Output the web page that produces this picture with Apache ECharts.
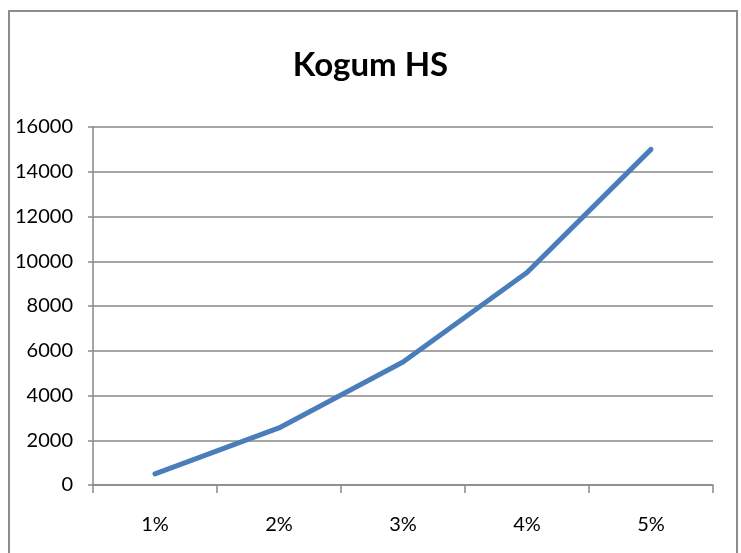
<!DOCTYPE html>
<html>
<head>
<meta charset="utf-8">
<title>Kogum HS</title>
<script src="https://cdn.jsdelivr.net/npm/echarts@6/dist/echarts.min.js"></script>
<style>
  html, body { margin:0; padding:0; background:#fff; }
  #chart { width:741px; height:553px; }
</style>
</head>
<body>
<div id="chart"></div>
<script>
// data
const titleText = 'Kogum HS';
const categories = ['1%', '2%', '3%', '4%', '5%'];
const values = [500, 2550, 5500, 9500, 15000];
const yMin = 0;
const yMax = 16000;
const yStep = 2000;

const FONT = 'Lato, "Open Sans", sans-serif';
const gridColor = '#898989';

const chart = echarts.init(document.getElementById('chart'), null, { renderer: 'canvas' });
chart.setOption({
  animation: false,
  backgroundColor: '#fff',
  title: {
    text: titleText,
    left: 'center',
    top: 44,
    textStyle: { fontFamily: FONT, fontSize: 33, fontWeight: 'bold', color: '#000' }
  },
  // chart frame (Excel chart area border)
  graphic: [{
    type: 'rect',
    shape: { x: 9, y: 11, width: 728, height: 560 },
    style: { fill: 'none', stroke: '#8c8c8c', lineWidth: 2 },
    silent: true
  }],
  grid: { left: 93, right: 28, top: 127, bottom: 68, containLabel: false },
  xAxis: {
    type: 'category',
    data: categories,
    boundaryGap: true,
    axisLine: { show: true, lineStyle: { color: gridColor, width: 1.5 } },
    axisTick: { show: true, length: 8, inside: false, lineStyle: { color: gridColor, width: 1.5 } },
    axisLabel: { margin: 30, fontFamily: FONT, fontSize: 20, color: '#000' },
    splitLine: { show: false }
  },
  yAxis: {
    type: 'value',
    min: yMin,
    max: yMax,
    interval: yStep,
    axisLine: { show: true, lineStyle: { color: gridColor, width: 1.5 } },
    axisTick: { show: true, length: 5, inside: false, lineStyle: { color: gridColor, width: 1.5 } },
    axisLabel: {
      margin: 20, fontFamily: FONT, fontSize: 20, color: '#000',
      formatter: v => String(v)
    },
    splitLine: { show: true, lineStyle: { color: gridColor, width: 1.5 } }
  },
  series: [{
    type: 'line',
    data: values,
    showSymbol: false,
    symbol: 'none',
    lineStyle: { color: '#4a7ebb', width: 5, cap: 'round', join: 'round' },
    itemStyle: { color: '#4a7ebb' }
  }]
});
</script>
</body>
</html>
